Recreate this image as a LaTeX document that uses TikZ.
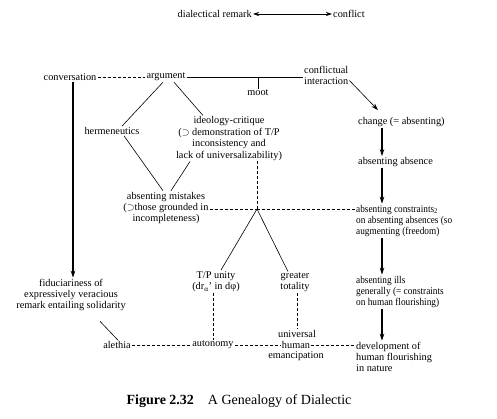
\documentclass[tikz,border=0pt]{standalone}
\usepackage{fontspec}
\setmainfont{Liberation Serif}
\newfontfamily\narrowserif[FakeStretch=0.9]{Liberation Serif}
\usetikzlibrary{arrows.meta}
\begin{document}
\begin{tikzpicture}[x=1pt,y=-1pt,
  lbl/.style={font=\fontsize{10.3}{11.4}\selectfont, inner sep=1pt, align=center},
  lbll/.style={font=\fontsize{10.3}{11.4}\selectfont, inner sep=1pt, align=left},
  lbln/.style={font=\narrowserif\fontsize{10.3}{11.4}\selectfont, inner sep=1pt, align=left},
  plain/.style={line width=0.6pt},
  dline/.style={line width=0.6pt, dash pattern=on 3pt off 2pt},
  arr/.style={line width=1.3pt, -{Stealth[length=7pt,width=4.5pt]}},
  dblarr/.style={line width=0.7pt, {Stealth[length=6pt,width=4pt]}-{Stealth[length=6pt,width=4pt]}},
]
\useasboundingbox (0,0) rectangle (497,419);

% title row
\node[lbl, anchor=east] (dr) at (253,14) {dialectical remark};
\node[lbl, anchor=west] (cf) at (332,14) {conflict};
\draw[dblarr] (dr) -- (cf);

% top row
\node[lbl] (conv) at (70,77) {conversation};
\node[lbl] (arg) at (166,77) {argument};
\node[lbll, anchor=west] (ci) at (303,75.5) {conflictual\\interaction};
\node[lbl] (moot) at (258,93) {moot};
\draw[dline] (conv) -- (arg);
\draw[plain] (arg.east) -- (arg.east -| ci.west);
\coordinate (mt) at (moot.north |- arg.east);
\draw[plain] (mt) -- (moot.north);

% diamond
\node[lbl] (herm) at (112,131) {hermeneutics};
\node[lbl] (ideo) at (229,138.5) {ideology-critique\\($\supset$ demonstration of T/P\\inconsistency and\\lack of universalizability)};
\node[lbl] (am) at (166,208) {absenting mistakes\\($\supset$those grounded in\\incompleteness)};
\draw[plain] ([xshift=-3pt]arg.south) -- ([xshift=10pt]herm.north);
\draw[plain] ([xshift=8pt]arg.south) -- ([xshift=-26pt]ideo.north);
\draw[plain] ([xshift=12pt]herm.south) -- ([xshift=-3pt]am.north);
\draw[plain] ([xshift=-39pt]ideo.south) -- ([xshift=5pt]am.north);

% junction
\coordinate (j) at (257,209);
\node[lbln, anchor=west] (acon) at (355,221) {absenting constraints\textsubscript{2}\\on absenting absences (so\\augmenting (freedom)};
\draw[dline] (ideo.south -| j) -- (j);
\draw[dline] (am.east |- j) -- (j);
\draw[dline] (j) -- (acon.west |- j);

% lower middle
\node[lbl] (tp) at (216,281.5) {T/P unity\\(dr\textsubscript{α}' in dφ)};
\node[lbl] (gt) at (295,282.5) {greater\\totality};
\draw[plain] (j) -- ([xshift=5pt]tp.north);
\draw[plain] (j) -- ([xshift=-7pt]gt.north);

% bottom row
\node[lbl] (ale) at (117,345) {alethia};
\node[lbl] (aut) at (213,345) {autonomy};
\node[lbl] (univ) at (297,333.5) {universal};
\node[lbl] (hum) at (296,345) {human};
\node[lbl] (eman) at (296,356.5) {emancipation};
\node[lbll, anchor=west] (dev) at (355,357) {development of\\human flourishing\\in nature};
\draw[dline] (aut.north |- tp.south) -- (aut.north);
\draw[dline] (univ.north |- gt.south) -- (univ.north);
\draw[dline] (ale) -- (aut);
\draw[dline] (aut) -- (hum);
\draw[dline] (hum) -- (dev.west |- hum);

% left column
\node[lbl] (fid) at (71,295) {fiduciariness of\\expressively veracious\\remark entailing solidarity};
\coordinate (lx) at (73,0);
\draw[arr] (lx |- conv.south) -- (lx |- fid.north);
\draw[plain] ([xshift=29pt,yshift=-9pt]fid.south) -- ([xshift=1pt]ale.north);

% right column
\node[lbll, anchor=west] (chg) at (357,122) {change (= absenting)};
\node[lbll, anchor=west] (aa) at (357,162) {absenting absence};
\node[lbln, anchor=west] (ills) at (355,292) {absenting ills\\generally (= constraints\\on human flourishing)};
\draw[plain, -{Stealth[length=7pt,width=4.5pt]}] ([yshift=-5pt]ci.east) -- ([xshift=21pt,yshift=6pt]chg.north west);
\coordinate (rx) at (382,0);
\draw[arr] (rx |- chg.south) -- (rx |- aa.north);
\draw[arr] (rx |- aa.south) -- (rx |- acon.north);
\draw[arr] (rx |- acon.south) -- (rx |- ills.north);
\draw[arr] (rx |- ills.south) -- (rx |- dev.north);

% caption
\node[inner sep=0pt] (cap) at (239,401) {\fontsize{14}{16}\selectfont\textbf{Figure 2.32}\quad A Genealogy of Dialectic};
\end{tikzpicture}
\end{document}
